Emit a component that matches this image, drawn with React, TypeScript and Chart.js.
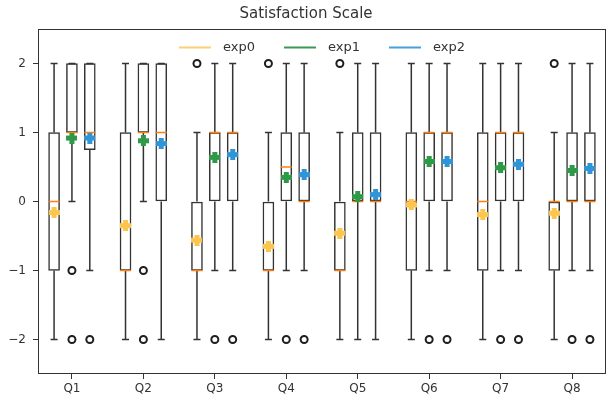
import React, { useEffect, useRef } from 'react';
import { Chart, registerables } from 'chart.js';

Chart.register(...registerables);

// ---------- data ----------
const categories = ['Q1', 'Q2', 'Q3', 'Q4', 'Q5', 'Q6', 'Q7', 'Q8'];
const seriesNames = ['exp0', 'exp1', 'exp2'];
const groupPositions = [0, 4, 8, 12, 16, 20, 24, 28];
const seriesOffsets = [-1, 0, 1];
const yTickValues = [-2, -1, 0, 1, 2];

const exp0WhiskerLow = [-2, -2, -2, -2, -2, -2, -2, -2];
const exp0Q1 = [-1, -1, -1, -1, -1, -1, -1, -1];
const exp0Median = [0, -1, -1, -1, -1, 0, 0, 0];
const exp0Q3 = [1, 1, 0, 0, 0, 1, 1, 0];
const exp0WhiskerHigh = [2, 2, 1, 1, 1, 2, 2, 1];
const exp0Mean = [-0.16, -0.35, -0.56, -0.65, -0.46, -0.05, -0.19, -0.17];
const exp0Outliers = [[], [], [2], [2], [2], [], [], [2]];

const exp1WhiskerLow = [0, 0, -1, -1, -2, -1, -1, -1];
const exp1Q1 = [1, 1, 0, 0, 0, 0, 0, 0];
const exp1Median = [1, 1, 1, 0.5, 0, 1, 1, 0];
const exp1Q3 = [2, 2, 1, 1, 1, 1, 1, 1];
const exp1WhiskerHigh = [2, 2, 2, 2, 2, 2, 2, 2];
const exp1Mean = [0.92, 0.88, 0.64, 0.35, 0.07, 0.58, 0.49, 0.45];
const exp1Outliers = [[-1, -2], [-1, -2], [-2], [-2], [], [-2], [-2], [-2]];

const exp2WhiskerLow = [-1, -2, -1, -1, -2, -1, -1, -1];
const exp2Q1 = [0.75, 0, 0, 0, 0, 0, 0, 0];
const exp2Median = [1, 1, 1, 0, 0, 1, 1, 0];
const exp2Q3 = [2, 2, 1, 1, 1, 1, 1, 1];
const exp2WhiskerHigh = [2, 2, 2, 2, 2, 2, 2, 2];
const exp2Mean = [0.92, 0.84, 0.68, 0.39, 0.1, 0.58, 0.54, 0.48];
const exp2Outliers = [[-2], [], [-2], [-2], [], [-2], [-2], [-2]];

// ---------- styles ----------
const seriesColors = ['#fbc54e', '#2e9a48', '#3095d6'];
const legendColors = ['#fdcf78', '#3a9a55', '#4a9fd8'];
const lineColor = '#333333';
const medianColor = '#ff7f0e';
const textColor = '#333333';
const FONT = "'DejaVu Sans', sans-serif";

const stats = [
  { lo: exp0WhiskerLow, q1: exp0Q1, med: exp0Median, q3: exp0Q3, hi: exp0WhiskerHigh, mean: exp0Mean, out: exp0Outliers },
  { lo: exp1WhiskerLow, q1: exp1Q1, med: exp1Median, q3: exp1Q3, hi: exp1WhiskerHigh, mean: exp1Mean, out: exp1Outliers },
  { lo: exp2WhiskerLow, q1: exp2Q1, med: exp2Median, q3: exp2Q3, hi: exp2WhiskerHigh, mean: exp2Mean, out: exp2Outliers },
];

const BOX_PX = 11;
const CAP_HALF_PX = 3.5;

function makePlusMarker(color: string): HTMLCanvasElement {
  const c = document.createElement('canvas');
  const s = 11;
  c.width = s;
  c.height = s;
  const g = c.getContext('2d')!;
  const t = 5;
  const a = (s - t) / 2;
  g.fillStyle = color;
  g.beginPath();
  g.moveTo(a, 0);
  g.lineTo(a + t, 0);
  g.lineTo(a + t, a);
  g.lineTo(s, a);
  g.lineTo(s, a + t);
  g.lineTo(a + t, a + t);
  g.lineTo(a + t, s);
  g.lineTo(a, s);
  g.lineTo(a, a + t);
  g.lineTo(0, a + t);
  g.lineTo(0, a);
  g.lineTo(a, a);
  g.closePath();
  g.fill();
  return c;
}

const boxExtrasPlugin = {
  id: 'boxExtras',
  afterDatasetDraw(chart: any, args: any) {
    const ds = chart.data.datasets[args.index];
    const s = ds.statsIdx;
    if (s === undefined) return;
    const st = stats[s];
    const xs = chart.scales.x;
    const ys = chart.scales.y;
    const ctx = chart.ctx;
    const area = chart.chartArea;
    ctx.save();
    ctx.beginPath();
    ctx.rect(area.left, area.top, area.right - area.left, area.bottom - area.top);
    ctx.clip();
    ctx.lineCap = 'butt';
    for (let i = 0; i < categories.length; i++) {
      const cx = xs.getPixelForValue(groupPositions[i] + seriesOffsets[s]);
      const yLo = ys.getPixelForValue(st.lo[i]);
      const yQ1 = ys.getPixelForValue(st.q1[i]);
      const yQ3 = ys.getPixelForValue(st.q3[i]);
      const yHi = ys.getPixelForValue(st.hi[i]);
      const yMed = ys.getPixelForValue(st.med[i]);
      ctx.strokeStyle = lineColor;
      ctx.lineWidth = 1.5;
      ctx.beginPath();
      if (st.lo[i] < st.q1[i]) {
        ctx.moveTo(cx, yQ1);
        ctx.lineTo(cx, yLo);
      }
      if (st.hi[i] > st.q3[i]) {
        ctx.moveTo(cx, yQ3);
        ctx.lineTo(cx, yHi);
      }
      ctx.moveTo(cx - CAP_HALF_PX, yLo);
      ctx.lineTo(cx + CAP_HALF_PX, yLo);
      ctx.moveTo(cx - CAP_HALF_PX, yHi);
      ctx.lineTo(cx + CAP_HALF_PX, yHi);
      ctx.stroke();
      ctx.strokeStyle = medianColor;
      ctx.lineWidth = 1.5;
      ctx.beginPath();
      ctx.moveTo(cx - BOX_PX / 2, yMed);
      ctx.lineTo(cx + BOX_PX / 2, yMed);
      ctx.stroke();
    }
    ctx.restore();
  },
};

const frameLegendPlugin = {
  id: 'frameLegend',
  afterDraw(chart: any) {
    const ctx = chart.ctx;
    const a = chart.chartArea;
    ctx.save();
    ctx.strokeStyle = lineColor;
    ctx.lineWidth = 1;
    ctx.strokeRect(a.left + 0.5, a.top + 0.5, a.right - a.left - 1, a.bottom - a.top - 1);
    // legend
    ctx.font = `13px ${FONT}`;
    const lineLen = 32;
    const gap = 12;
    const itemGap = 29;
    const widths = seriesNames.map((n) => ctx.measureText(n).width);
    let total = 0;
    widths.forEach((w, i) => {
      total += lineLen + gap + w + (i < widths.length - 1 ? itemGap : 0);
    });
    let x = (a.left + a.right) / 2 - total / 2;
    const y = a.top + 18.5;
    ctx.textBaseline = 'middle';
    ctx.textAlign = 'left';
    seriesNames.forEach((n, i) => {
      ctx.strokeStyle = legendColors[i];
      ctx.lineWidth = 2;
      ctx.beginPath();
      ctx.moveTo(x, y);
      ctx.lineTo(x + lineLen, y);
      ctx.stroke();
      ctx.fillStyle = textColor;
      ctx.fillText(n, x + lineLen + gap, y + 0.5);
      x += lineLen + gap + widths[i] + itemGap;
    });
    ctx.restore();
  },
};

export default function App() {
  const ref = useRef<HTMLCanvasElement | null>(null);

  useEffect(() => {
    if (!ref.current) return;
    const boxDatasets = stats.map((st, s) => ({
      type: 'bar' as const,
      label: seriesNames[s] + ' box',
      statsIdx: s,
      data: categories.map((_, i) => ({ x: groupPositions[i] + seriesOffsets[s], y: [st.q1[i], st.q3[i]] })),
      backgroundColor: '#ffffff',
      borderColor: lineColor,
      borderWidth: 1.5,
      borderSkipped: false,
      barThickness: BOX_PX,
      grouped: false,
      order: 10,
    }));
    const outlierDatasets = stats.map((st, s) => {
      const pts: { x: number; y: number }[] = [];
      categories.forEach((_, i) => {
        st.out[i].forEach((v) => pts.push({ x: groupPositions[i] + seriesOffsets[s], y: v }));
      });
      return {
        type: 'scatter' as const,
        label: seriesNames[s] + ' outliers',
        data: pts,
        pointStyle: 'circle',
        pointRadius: 3.5,
        pointBorderWidth: 2,
        pointBorderColor: '#1e1e1e',
        pointBackgroundColor: 'rgba(0,0,0,0)',
        order: 5,
      };
    });
    const meanDatasets = stats.map((st, s) => ({
      type: 'scatter' as const,
      label: seriesNames[s],
      data: categories.map((_, i) => ({ x: groupPositions[i] + seriesOffsets[s], y: st.mean[i] })),
      pointStyle: makePlusMarker(seriesColors[s]),
      pointRadius: 6,
      order: 1,
    }));

    const chart = new Chart(ref.current, {
      type: 'bar',
      data: { datasets: [...boxDatasets, ...outlierDatasets, ...meanDatasets] as any },
      options: {
        responsive: false,
        animation: false,
        events: [],
        devicePixelRatio: 1,
        layout: { padding: { left: 0, right: 1, top: 0, bottom: 0 } },
        plugins: {
          legend: { display: false },
          tooltip: { enabled: false },
          title: {
            display: true,
            text: 'Satisfaction Scale',
            color: textColor,
            font: { family: FONT, size: 15, weight: 'normal' },
            padding: { top: 5, bottom: 6 },
          },
        },
        scales: {
          x: {
            type: 'linear',
            min: -1.9,
            max: 29.9,
            offset: false,
            afterBuildTicks: (scale: any) => {
              scale.ticks = groupPositions.map((v) => ({ value: v }));
            },
            afterFit: (scale: any) => {
              scale.height = 27;
            },
            ticks: {
              color: textColor,
              font: { family: FONT, size: 12 },
              padding: 3,
              maxRotation: 0,
              autoSkip: false,
              callback: (v: any) => {
                const idx = groupPositions.indexOf(Number(v));
                return idx >= 0 ? categories[idx] : '';
              },
            },
            grid: { display: true, offset: false, drawOnChartArea: false, drawTicks: true, tickLength: 5, color: lineColor, lineWidth: 1 },
            border: { display: false },
          },
          y: {
            type: 'linear',
            min: -2.5,
            max: 2.5,
            afterBuildTicks: (scale: any) => {
              scale.ticks = yTickValues.map((v) => ({ value: v }));
            },
            afterFit: (scale: any) => {
              scale.width = 38;
            },
            ticks: {
              color: textColor,
              font: { family: FONT, size: 12 },
              padding: 7,
              callback: (v: any) => {
                const n = Number(v);
                return n < 0 ? '\u2212' + Math.abs(n) : String(n);
              },
            },
            grid: { display: true, offset: false, drawOnChartArea: false, drawTicks: true, tickLength: 5, color: lineColor, lineWidth: 1 },
            border: { display: false },
          },
        },
      } as any,
      plugins: [boxExtrasPlugin, frameLegendPlugin],
    });
    return () => chart.destroy();
  }, []);

  return (
    <div style={{ position: 'absolute', left: 0, top: 0, width: 613, height: 401, background: '#ffffff' }}>
      <canvas ref={ref} width={613} height={401} style={{ width: 613, height: 401, display: 'block' }} />
    </div>
  );
}
